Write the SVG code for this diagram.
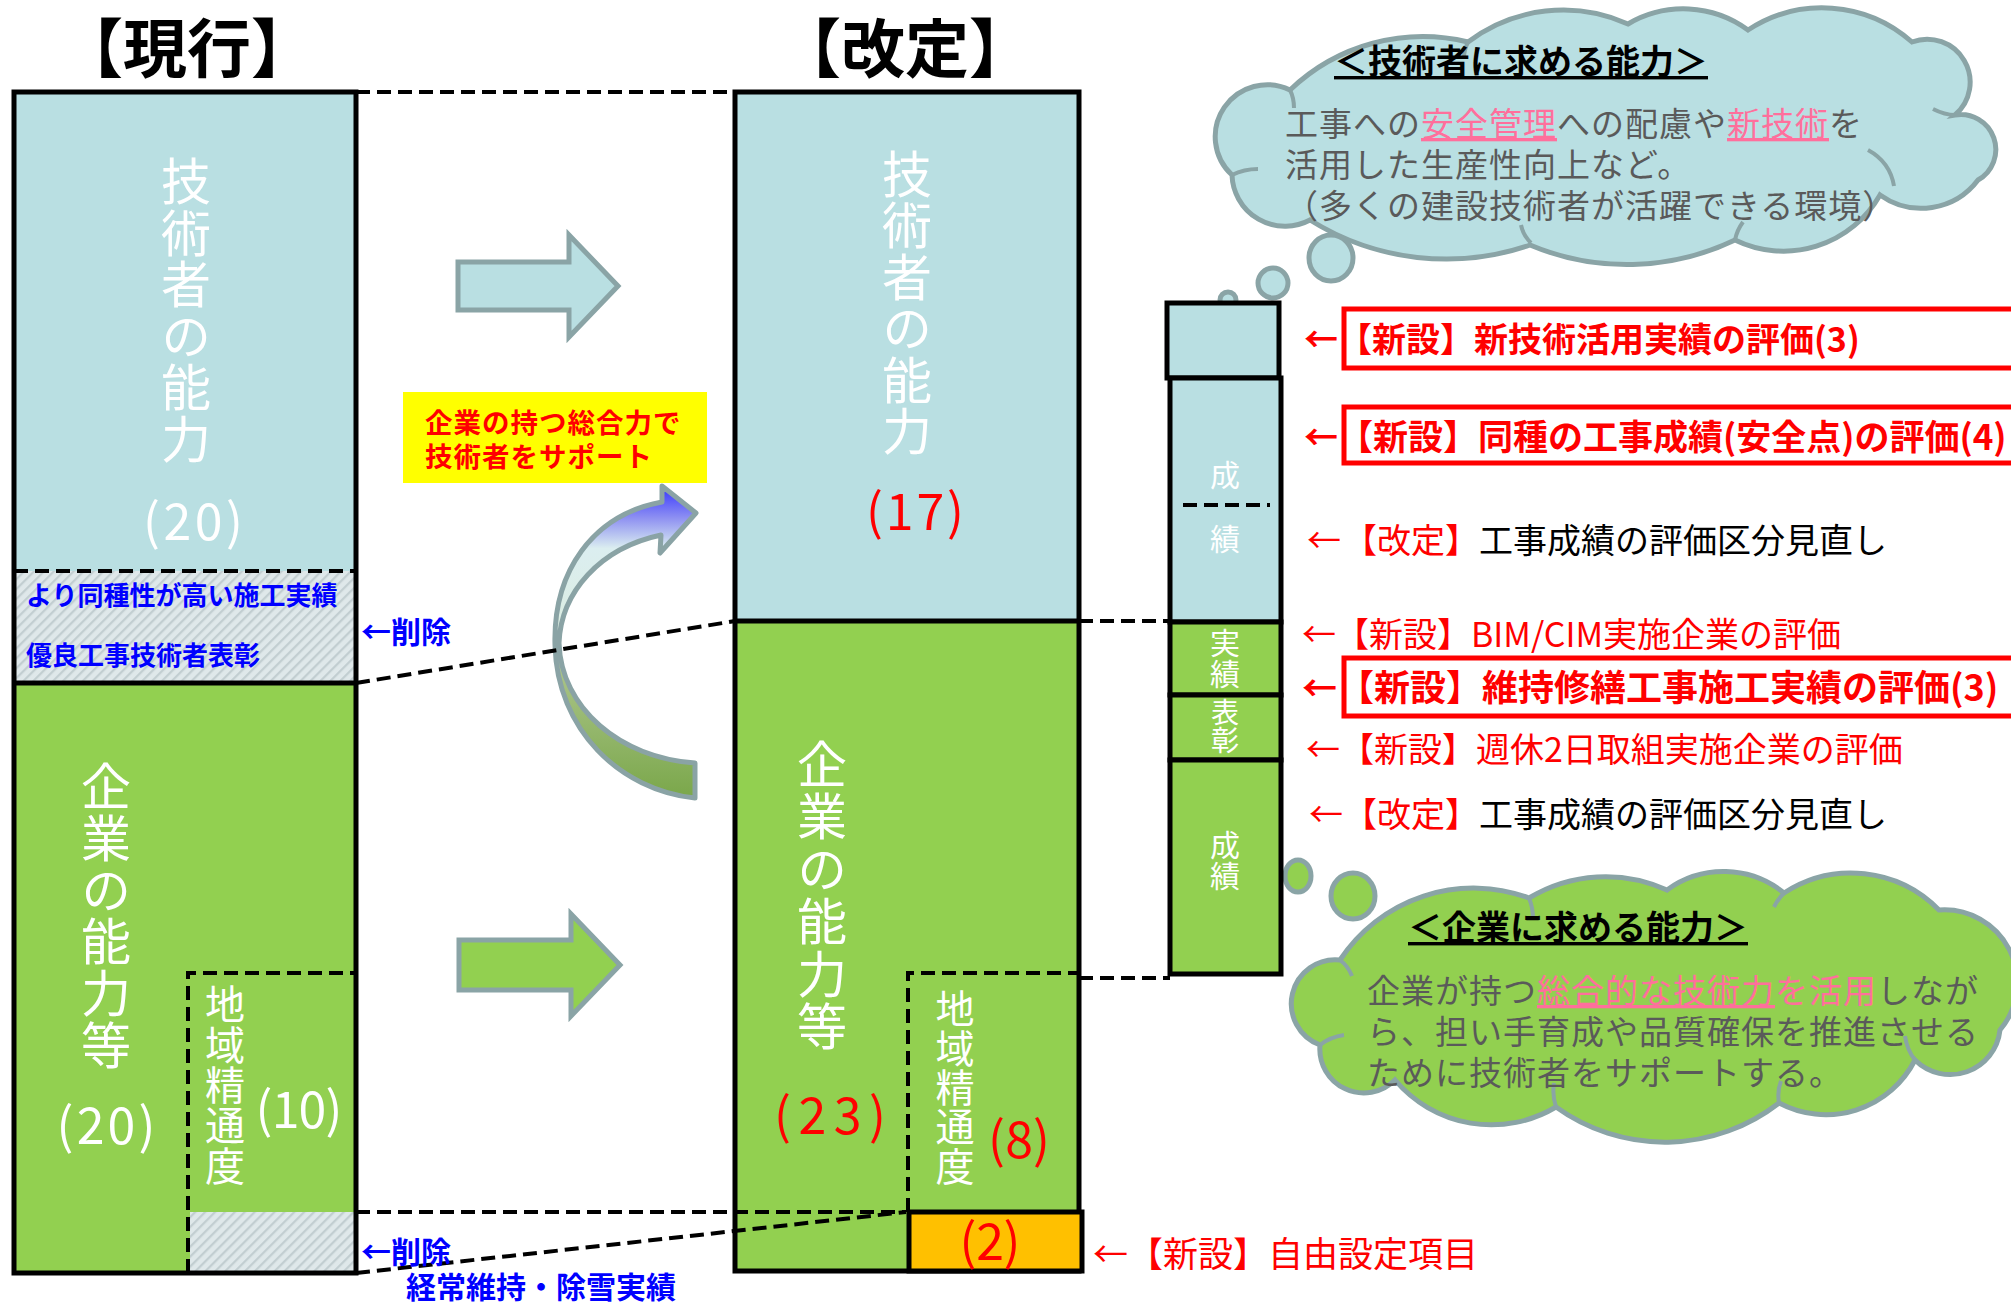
<svg xmlns="http://www.w3.org/2000/svg" width="2011" height="1305" viewBox="0 0 2011 1305">
<defs>
<style>
text{font-family:"Noto Sans CJK JP","Noto Sans",sans-serif}
.lb{fill:#b9dfe2}
.gr{fill:#92d050}
.bx{stroke:#000;stroke-width:5}
.dsh{fill:none;stroke:#000;stroke-width:4;stroke-dasharray:14 7}
.wt{fill:#fff;text-anchor:middle}
.vt{fill:#fff;writing-mode:vertical-rl;text-anchor:start}
.num{text-anchor:middle;font-size:50px}
.blu{fill:#0000ff;font-weight:bold}
.gy{fill:#5a5a5a;font-size:33px;letter-spacing:1px}
.pk{fill:#ff6f9c}
.red{fill:#ff0000}
.cl{stroke:#8aa4a6;stroke-width:5}
.in{fill:none;stroke:#8aa4a6;stroke-width:4}
.rbox{fill:none;stroke:#ff0000;stroke-width:5}
</style>
<pattern id="hatch" width="7" height="7" patternUnits="userSpaceOnUse" patternTransform="rotate(45)">
<rect width="7" height="7" fill="#dfe8ea"/>
<line x1="1" y1="0" x2="1" y2="7" stroke="#c2ced1" stroke-width="2.5"/>
</pattern>
<linearGradient id="cg" x1="0" y1="0" x2="0" y2="1">
<stop offset="0" stop-color="#3434ff"/>
<stop offset="0.1" stop-color="#8c8ef2"/>
<stop offset="0.2" stop-color="#dbeef0"/>
<stop offset="0.48" stop-color="#dcede0"/>
<stop offset="0.6" stop-color="#a9c387"/>
<stop offset="1" stop-color="#7aa74a"/>
</linearGradient>
</defs>
<rect width="2011" height="1305" fill="#fff"/>

<g id="titles">
<text x="187" y="72" font-size="64" font-weight="bold" text-anchor="middle" fill="#000">【現行】</text>
<text x="905" y="72" font-size="64" font-weight="bold" text-anchor="middle" fill="#000">【改定】</text>
</g>

<g id="cloud-tech">
<path class="cl lb" d="M1290,90 A192,192 0 0 1 1468,42 A158,158 0 0 1 1628,24 A109,109 0 0 1 1748,30 A135,135 0 0 1 1912,42 A43,43 0 0 1 1955,115 A35,35 0 0 1 1978,180 A71,71 0 0 1 1880,195 A111,111 0 0 1 1735,240 A250,250 0 0 1 1530,245 A257,257 0 0 1 1310,220 A53,53 0 0 1 1232,175 A52,52 0 0 1 1290,90 Z"/>
<path class="in" d="M1290,90 q4,8 4,18 M1232,175 q12,-6 26,-6 M1531,243 q-8,-8 -10,-18 M1735,240 q2,-10 8,-18 M1868,150 q22,12 26,36 M1955,115 q-10,0 -22,-6 M1468,42 q-4,8 -4,16"/>
<circle class="cl lb" cx="1228" cy="300" r="8"/>
<circle class="cl lb" cx="1273" cy="283" r="15"/>
<ellipse class="cl lb" cx="1331" cy="258" rx="22" ry="23"/>
<text x="1334" y="74" font-size="34" font-weight="bold" fill="#000" text-decoration="underline">＜技術者に求める能力＞</text>
<text x="1285" y="136" class="gy">工事への<tspan class="pk" text-decoration="underline">安全管理</tspan>への配慮や<tspan class="pk" text-decoration="underline">新技術</tspan>を</text>
<text x="1285" y="177" class="gy">活用した生産性向上など。</text>
<text x="1285" y="218" class="gy">（多くの建設技術者が活躍できる環境）</text>
</g>

<g id="cloud-company">
<path class="cl gr" d="M1340,960 A160,160 0 0 1 1529,898 A148,148 0 0 1 1667,890 A96,96 0 0 1 1784,893 A123,123 0 0 1 1939,910 A73,73 0 0 1 2000,1030 A50,50 0 0 1 1915,1060 A100,100 0 0 1 1779,1103 A186,186 0 0 1 1556,1107 A126,126 0 0 1 1395,1080 A44,44 0 0 1 1320,1045 A44,44 0 0 1 1340,960 Z"/>
<path class="in" d="M1340,960 q8,6 12,16 M1320,1045 q10,-8 24,-10 M1556,1107 q-4,-12 -2,-24 M1779,1103 q-2,-12 2,-22 M1915,1060 q-8,-10 -10,-24 M1529,898 q4,10 4,20 M1784,893 q-6,6 -10,14"/>
<ellipse class="cl gr" cx="1298" cy="876" rx="13" ry="16"/>
<ellipse class="cl gr" cx="1353" cy="896" rx="22" ry="23"/>
<text x="1408" y="940" font-size="34" font-weight="bold" fill="#000" text-decoration="underline">＜企業に求める能力＞</text>
<text x="1367" y="1003" class="gy">企業が持つ<tspan class="pk" text-decoration="underline">総合的な技術力</tspan><tspan class="pk">を活用</tspan>しなが</text>
<text x="1367" y="1044" class="gy">ら、担い手育成や品質確保を推進させる</text>
<text x="1367" y="1085" class="gy">ために技術者をサポートする。</text>
</g>

<g id="current-box">
<rect class="lb" x="14" y="92" width="342" height="479"/>
<rect fill="url(#hatch)" x="14" y="571" width="342" height="112"/>
<rect class="gr" x="14" y="683" width="342" height="590"/>
<rect fill="url(#hatch)" x="190" y="1212" width="166" height="61"/>
<line class="bx" x1="14" y1="683" x2="356" y2="683"/>
<line class="dsh" x1="14" y1="571" x2="356" y2="571"/>
<path class="dsh" d="M188,1273 V973 H356"/>
<rect class="bx" fill="none" x="14" y="92" width="342" height="1181"/>
<text class="vt" x="186" y="156" font-size="50" letter-spacing="1.6">技術者の能力</text>
<text class="wt num" x="193" y="540" textLength="100">(20)</text>
<text class="vt" x="106" y="761" font-size="50" letter-spacing="1.8">企業の能力等</text>
<text class="wt num" x="106" y="1144" textLength="99">(20)</text>
<text class="vt" x="225" y="984" font-size="40" letter-spacing="0.4">地域精通度</text>
<text class="wt num" x="299" y="1128" textLength="87">(10)</text>
<text class="blu" x="26" y="605" font-size="26">より同種性が高い施工実績</text>
<text class="blu" x="26" y="665" font-size="26">優良工事技術者表彰</text>
</g>

<g id="revised-box">
<rect class="lb" x="735" y="92" width="344" height="529"/>
<rect class="gr" x="735" y="621" width="344" height="650"/>
<line class="bx" x1="735" y1="621" x2="1079" y2="621"/>
<path class="dsh" d="M908,1212 V973 H1079"/>
<rect class="bx" fill="none" x="735" y="92" width="344" height="1179"/>
<rect class="bx" fill="#ffc000" x="909" y="1212" width="173" height="59"/>
<text class="vt" x="907" y="149" font-size="50" letter-spacing="1.4">技術者の能力</text>
<text class="num red" x="915" y="530" textLength="98">(17)</text>
<text class="vt" x="822" y="739" font-size="50" letter-spacing="2.4">企業の能力等</text>
<text class="num red" x="830" y="1134" textLength="112">(23)</text>
<text class="vt" x="955" y="989" font-size="39" letter-spacing="0.3">地域精通度</text>
<text class="num red" x="1019" y="1158" textLength="62">(8)</text>
<text class="num red" x="990" y="1260" textLength="61">(2)</text>
</g>

<g id="stack">
<rect class="lb bx" x="1167" y="303" width="112" height="75"/>
<rect class="lb bx" x="1170" y="378" width="111" height="244"/>
<rect class="gr bx" x="1170" y="622" width="111" height="73"/>
<rect class="gr bx" x="1170" y="695" width="111" height="65"/>
<rect class="gr bx" x="1170" y="760" width="111" height="214"/>
<line class="dsh" x1="1183" y1="505" x2="1270" y2="505" stroke-dasharray="12 6"/>
<text class="wt" x="1225" y="486" font-size="30">成</text>
<text class="wt" x="1225" y="550" font-size="30">績</text>
<text class="vt" x="1225" y="628" font-size="30" letter-spacing="1">実績</text>
<text class="vt" x="1225" y="698" font-size="28">表彰</text>
<text class="vt" x="1225" y="830" font-size="30" letter-spacing="1">成績</text>
</g>

<g id="support-note">
<rect x="403" y="392" width="304" height="91" fill="#ffff00"/>
<text x="425" y="433" font-size="27.5" letter-spacing="1" font-weight="bold" class="red">企業の持つ総合力で</text>
<text x="425" y="467" font-size="27.5" letter-spacing="1" font-weight="bold" class="red">技術者をサポート</text>
</g>

<g id="arrows">
<polygon class="cl lb" points="458,262 569,262 569,235 618,286 569,337 569,310 458,310"/>
<polygon class="cl gr" points="459,940 571,940 571,914 620,965 571,1016 571,990 459,990"/>
<path fill="url(#cg)" stroke="#8aa3a5" stroke-width="5" stroke-linejoin="round" d="M695,798 C620,790 557,730 555,645 C553,572 592,515 662,502 L662,486 L696,513 L660,553 L661,535 C600,548 561,592 559,643 C561,708 620,758 695,763 Z"/>
</g>

<g id="connectors">
<line class="dsh" x1="356" y1="92" x2="735" y2="92"/>
<line class="dsh" x1="356" y1="683" x2="735" y2="621"/>
<line class="dsh" x1="356" y1="1212" x2="906" y2="1212"/>
<line class="dsh" x1="356" y1="1273" x2="906" y2="1212"/>
<line class="dsh" x1="1079" y1="621" x2="1168" y2="621"/>
<line class="dsh" x1="1079" y1="978" x2="1170" y2="978"/>
</g>

<g id="deleted-labels">
<text class="blu" x="361" y="643" font-size="30">←削除</text>
<text class="blu" x="361" y="1263" font-size="30">←削除</text>
<text class="blu" x="406" y="1298" font-size="30">経常維持・除雪実績</text>
</g>

<g id="change-list">
<rect class="rbox" x="1344" y="309" width="700" height="59"/>
<rect class="rbox" x="1344" y="407" width="700" height="56"/>
<rect class="rbox" x="1344" y="658" width="700" height="58"/>
<text class="red" x="1304" y="352" font-size="34" font-weight="bold">←</text>
<text class="red" x="1338" y="352" font-size="34" font-weight="bold">【新設】新技術活用実績の評価(3)</text>
<text class="red" x="1304" y="450" font-size="34" font-weight="bold">←</text>
<text class="red" x="1338" y="450" font-size="35" font-weight="bold">【新設】同種の工事成績(安全点)の評価(4)</text>
<text class="red" x="1307" y="553" font-size="34">←</text>
<text x="1343" y="553" font-size="34"><tspan class="red">【改定】</tspan><tspan fill="#000">工事成績の評価区分見直し</tspan></text>
<text class="red" x="1302" y="647" font-size="34">←</text>
<text class="red" x="1335" y="647" font-size="34">【新設】BIM/CIM実施企業の評価</text>
<text class="red" x="1302" y="701" font-size="35" font-weight="bold">←</text>
<text class="red" x="1338" y="701" font-size="36" font-weight="bold">【新設】維持修繕工事施工実績の評価(3)</text>
<text class="red" x="1306" y="762" font-size="34">←</text>
<text class="red" x="1340" y="762" font-size="34">【新設】週休2日取組実施企業の評価</text>
<text class="red" x="1309" y="827" font-size="34">←</text>
<text x="1343" y="827" font-size="34"><tspan class="red">【改定】</tspan><tspan fill="#000">工事成績の評価区分見直し</tspan></text>
<text class="red" x="1093" y="1267" font-size="35">←</text>
<text class="red" x="1128" y="1267" font-size="35">【新設】自由設定項目</text>
</g>
</svg>
